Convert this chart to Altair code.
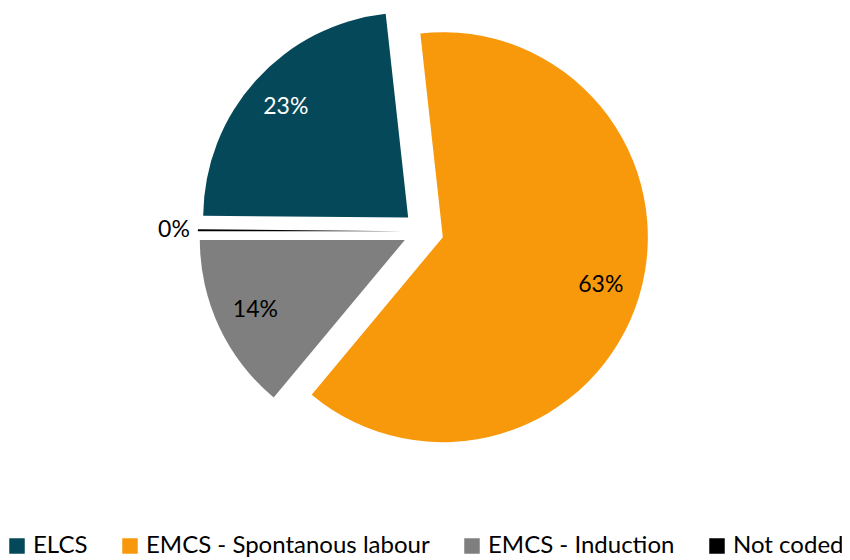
import math
import altair as alt
import pandas as pd

categories = ["ELCS", "EMCS - Spontanous labour", "EMCS - Induction", "Not coded"]
shares = [23.1, 62.8, 13.95, 0.15]
labels = ["23%", "63%", "14%", "0%"]
colors = ["#05485A", "#F8990C", "#7F7F7F", "#000000"]
label_colors = ["#FFFFFF", "#000000", "#000000", "#000000"]

df = pd.DataFrame({
    "category": categories,
    "share": shares,
    "label": labels,
    "idx": list(range(len(categories))),
    "lc": label_colors,
})

total = sum(shares)
START = 1.5 * math.pi + 2 * math.pi * shares[-1] / total
CX, CY, R, D = 415.3, 223.3, 205, 20.4
FONT = "Lato"

base = (
    alt.Chart(df)
    .transform_stack(stack="share", as_=["s0", "s1"], groupby=[], sort=[alt.SortField("idx")])
    .transform_calculate(mid=f"{START} + 2*PI*((datum.s0 + datum.s1)/2)/{total}")
    .transform_calculate(
        cx=f"{CX} + {D}*sin(datum.mid)",
        cy=f"{CY} - {D}*cos(datum.mid)",
    )
    .transform_calculate(
        lr=f"datum.share >= 1 ? 165 : {R + 8}",
    )
    .transform_calculate(
        lx="datum.cx + datum.lr*sin(datum.mid)",
        ly="datum.cy - datum.lr*cos(datum.mid)",
    )
)

arcs = base.mark_arc(radius=R).encode(
    theta=alt.Theta("s0:Q", scale=alt.Scale(domain=[0, total], range=[START, START + 2 * math.pi])),
    theta2="s1:Q",
    x=alt.X("cx:Q", scale=None),
    y=alt.Y("cy:Q", scale=None),
    color=alt.Color(
        "category:N",
        scale=alt.Scale(domain=categories, range=colors),
        sort=categories,
        legend=alt.Legend(
            title=None,
            orient="none",
            legendX=-3,
            legendY=526,
            direction="horizontal",
            columns=4,
            symbolType="square",
            symbolSize=240,
            symbolStrokeWidth=0,
            labelFont=FONT,
            labelFontSize=24,
            labelColor="#000000",
            labelOffset=4,
            columnPadding=30,
            padding=0,
            labelLimit=400,
        ),
    ),
)

inner = base.transform_filter("datum.share >= 1").mark_text(
    font=FONT, fontSize=23, align="center", baseline="middle"
).encode(
    x=alt.X("lx:Q", scale=None),
    y=alt.Y("ly:Q", scale=None),
    text="label:N",
    color=alt.Color("lc:N", scale=None),
)

outer = base.transform_filter("datum.share < 1").mark_text(
    font=FONT, fontSize=23, align="right", baseline="middle"
).encode(
    x=alt.X("lx:Q", scale=None),
    y=alt.Y("ly:Q", scale=None),
    text="label:N",
    color=alt.Color("lc:N", scale=None),
)

chart = (
    alt.layer(arcs, inner, outer)
    .properties(width=834, height=550, padding=0, autosize="none")
    .configure_view(stroke=None)
)

chart.save("out.html", embed_options={"renderer": "svg", "actions": False})
